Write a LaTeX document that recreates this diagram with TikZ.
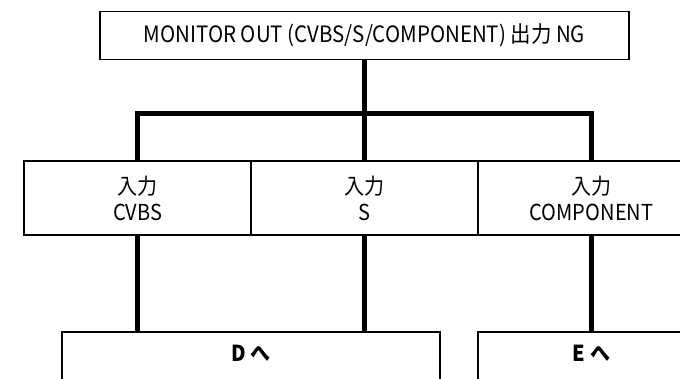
\documentclass[tikz,border=0pt]{standalone}
\usepackage{fontspec}
\setmainfont[FakeStretch=0.91]{Noto Sans CJK JP}
\begin{document}
\begin{tikzpicture}[x=1pt,y=-1pt,
  box/.style={draw=black, line width=1.3pt, inner sep=0pt, outer sep=0pt, align=center, text=black},
  bus/.style={draw=black, line width=5pt, line join=miter, line cap=butt},
  midbox/.style={box, minimum width=227pt, minimum height=74pt, font=\fontsize{22}{26}\selectfont},
  lowbox/.style={box, anchor=north, inner ysep=13.5pt, text height=16pt, text depth=80pt, font=\fontsize{22}{26}\selectfont\bfseries}]
\useasboundingbox (0,0) rectangle (680,379);
\clip (0,0) rectangle (680,379);
% nodes
\node[box, minimum width=529pt, minimum height=47.5pt, font=\fontsize{22.5}{26}\selectfont] (top) at (364.5,35.5) {MONITOR OUT (CVBS/S/COMPONENT) 出力 NG};
\node[midbox] (cvbs) at (137.5,198) {入力\\CVBS};
\node[midbox] (s) at (364.5,198) {入力\\S};
\node[midbox] (comp) at (591.5,198) {入力\\COMPONENT};
\node[lowbox, minimum width=378pt] (d) at (251,332) {D へ};
\node[lowbox, minimum width=227pt] (e) at (591.5,332) {E へ};
\coordinate (busc) at (364.5,113.5);
% connectors
\draw[bus] (top.south) -- (s.north);
\draw[bus] (cvbs.north) |- (busc) -| (comp.north);
\draw[bus] (cvbs.south) -- (cvbs.south |- d.north);
\draw[bus] (s.south) -- (s.south |- d.north);
\draw[bus] (comp.south) -- (e.north);
\end{tikzpicture}
\end{document}
